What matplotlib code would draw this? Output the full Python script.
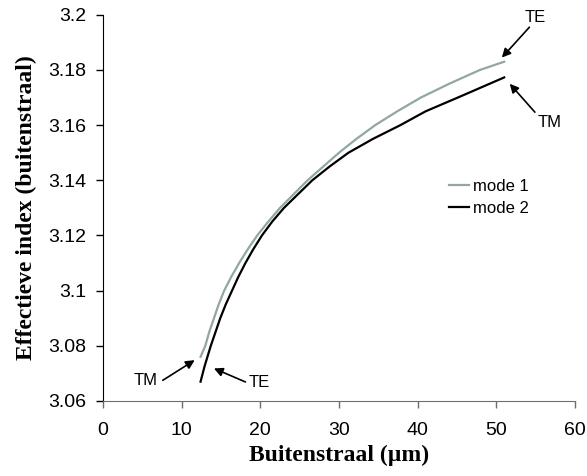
import matplotlib.pyplot as plt

# straal (um) en effectieve index per mode
mode1_x = [12.4, 13.0, 13.5, 14.1, 14.7, 15.4, 16.3, 17.3, 18.4, 19.6, 21.0, 22.5, 26.0, 28.0, 30.0, 32.2,
           34.6, 37.4, 40.4, 44.0, 47.9, 51.0]
mode1_y = [3.0760, 3.080, 3.085, 3.090, 3.095, 3.100, 3.105, 3.110, 3.115, 3.120, 3.125, 3.130, 3.140, 3.145,
           3.150, 3.155, 3.160, 3.165, 3.170, 3.175, 3.180, 3.183]
mode2_x = [12.4, 12.9, 13.7, 14.3, 14.9, 15.6, 16.4, 17.2, 18.1, 19.1, 20.2, 21.5, 23.0, 26.6, 28.8, 31.2,
           34.3, 37.8, 41.0, 45.1, 51.0]
mode2_y = [3.067, 3.0725, 3.080, 3.085, 3.090, 3.095, 3.100, 3.105, 3.110, 3.115, 3.120, 3.125, 3.130, 3.140,
           3.145, 3.150, 3.155, 3.160, 3.165, 3.170, 3.1773]

xticks = [0, 10, 20, 30, 40, 50, 60]
yticks = [3.06, 3.08, 3.1, 3.12, 3.14, 3.16, 3.18, 3.2]
ytick_labels = ['3.06', '3.08', '3.1', '3.12', '3.14', '3.16', '3.18', '3.2']

plt.rcParams['font.family'] = ['Liberation Sans', 'DejaVu Sans']

fig = plt.figure(figsize=(5.87, 4.76), dpi=100)
ax = fig.add_axes([0.1755, 0.1576, 0.8041, 0.8113])

ax.plot(mode1_x, mode1_y, color='#92a6a6', lw=1.6, label='mode 1', solid_joinstyle='round')
ax.plot(mode2_x, mode2_y, color='black', lw=1.6, label='mode 2', solid_joinstyle='round')

ax.set_xlim(0, 60)
ax.set_ylim(3.06, 3.2)
ax.set_xticks(xticks)
ax.set_yticks(yticks)
ax.set_yticklabels(ytick_labels)

for s in ['top', 'right']:
    ax.spines[s].set_visible(False)
ax.spines['left'].set_color('black')
ax.spines['bottom'].set_color('#6e6e6e')
ax.tick_params(axis='both', direction='out', length=5, width=1, labelsize=14)
ax.tick_params(axis='x', color='#6e6e6e', pad=10)
ax.tick_params(axis='y', pad=7)

serif = ['Liberation Serif', 'DejaVu Serif']
ax.set_xlabel('Buitenstraal (\u00b5m)', family=serif, fontweight='bold', fontsize=17, labelpad=4)
ax.set_ylabel('Effectieve index (buitenstraal)', family=serif, fontweight='bold', fontsize=17, labelpad=8)

ax.legend(loc='upper left', bbox_to_anchor=(0.732, 0.576), frameon=False, fontsize=12,
          handlelength=1.2, handletextpad=0.25, labelspacing=0.45, borderpad=0, borderaxespad=0)

arrow = dict(arrowstyle='-|>', color='black', lw=1.2, mutation_scale=13, shrinkA=0, shrinkB=0)
ax.annotate('', xy=(50.7, 3.1845), xytext=(54.2, 3.1955), arrowprops=arrow)
ax.text(54.9, 3.1991, 'TE', ha='center', va='center', fontsize=12)
ax.annotate('', xy=(51.7, 3.1750), xytext=(54.9, 3.1647), arrowprops=arrow)
ax.text(56.8, 3.1608, 'TM', ha='center', va='center', fontsize=12)
ax.annotate('', xy=(11.65, 3.0748), xytext=(7.6, 3.0675), arrowprops=arrow)
ax.text(5.45, 3.0675, 'TM', ha='center', va='center', fontsize=12)
ax.annotate('', xy=(14.1, 3.0718), xytext=(18.1, 3.0669), arrowprops=arrow)
ax.text(19.9, 3.0666, 'TE', ha='center', va='center', fontsize=12)

fig.savefig('out.png', dpi=100)
